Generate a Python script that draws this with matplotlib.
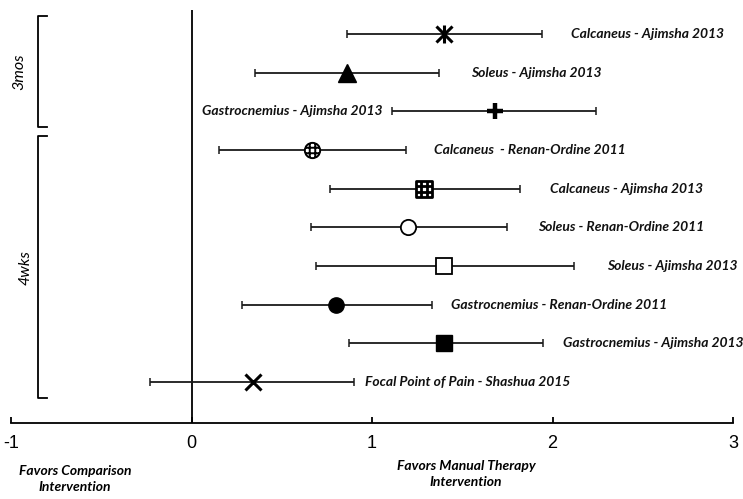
import matplotlib
matplotlib.use("Agg")
import matplotlib.pyplot as plt
import numpy as np
from matplotlib.path import Path

# ---- data ----
labels = ["Calcaneus - Ajimsha 2013", "Soleus - Ajimsha 2013", "Gastrocnemius - Ajimsha 2013",
          "Calcaneus  - Renan-Ordine 2011", "Calcaneus - Ajimsha 2013", "Soleus - Renan-Ordine 2011",
          "Soleus - Ajimsha 2013", "Gastrocnemius - Renan-Ordine 2011", "Gastrocnemius - Ajimsha 2013",
          "Focal Point of Pain - Shashua 2015"]
effect = [1.40, 0.86, 1.68, 0.67, 1.29, 1.20, 1.40, 0.80, 1.40, 0.34]
ci_low = [0.86, 0.35, 1.11, 0.15, 0.77, 0.66, 0.69, 0.28, 0.87, -0.23]
ci_high = [1.94, 1.37, 2.24, 1.19, 1.82, 1.75, 2.12, 1.33, 1.95, 0.90]
groups = ["3mos", "4wks"]
xticks = [-1, 0, 1, 2, 3]
favors_left = "Favors Comparison\nIntervention"
favors_right = "Favors Manual Therapy\nIntervention"

# ---- styles ----
label_x = [2.105, 1.551, 1.058, 1.345, 1.986, 1.918, 2.30, 1.44, 2.06, 0.963]
label_ha = ["left", "left", "right", "left", "left", "left", "left", "left", "left", "left"]

def grid_marker(shape):
    g = 0.36
    if shape == "circle":
        base = Path.unit_circle()
        h = np.sqrt(1 - g * g)
    else:
        base = Path.unit_rectangle()
        base = Path(base.vertices * 2 - 1, base.codes)
        h = 1.0
    verts, codes = [], []
    for v in (-g, g):
        verts += [(v, -h), (v, h)]
        codes += [Path.MOVETO, Path.LINETO]
        verts += [(-h, v), (h, v)]
        codes += [Path.MOVETO, Path.LINETO]
    lines = Path(verts, codes)
    return Path.make_compound_path(base, lines)

fig = plt.figure(figsize=(7.43, 4.99), dpi=100)
W, H = 743, 499
ax = fig.add_axes([11 / W, 1 - 423 / H, (733 - 11) / W, (423 - 10) / H])
ax.set_xlim(-1, 3)
ax.set_ylim(10.06, -0.62)

n = len(effect)
ys = np.arange(n)
for i in range(n):
    ax.errorbar(effect[i], ys[i], xerr=[[effect[i] - ci_low[i]], [ci_high[i] - effect[i]]],
                fmt="none", ecolor="#1a1a1a", elinewidth=1.3, capsize=3.2, capthick=1.1, zorder=2)

k = "black"
# markers
ax.plot(effect[0], ys[0], marker="x", ms=11, mew=2.2, color=k, ls="none", zorder=3)
ax.plot(effect[0], ys[0], marker="|", ms=13, mew=2.2, color=k, ls="none", zorder=3)
ax.plot(effect[1], ys[1], marker="^", ms=13, color=k, ls="none", zorder=3)
ax.plot(effect[2], ys[2], marker="+", ms=12, mew=3.2, color=k, ls="none", zorder=3)
ax.plot(effect[3], ys[3], marker=grid_marker("circle"), ms=11, mfc="white", mec=k, mew=1.4, ls="none", zorder=3)
ax.plot(effect[4], ys[4], marker=grid_marker("square"), ms=11, mfc="white", mec=k, mew=2.0, ls="none", zorder=3)
ax.plot(effect[5], ys[5], marker="o", ms=11, mfc="white", mec=k, mew=1.3, ls="none", zorder=3)
ax.plot(effect[6], ys[6], marker="s", ms=11, mfc="white", mec=k, mew=1.3, ls="none", zorder=3)
ax.plot(effect[7], ys[7], marker="o", ms=11, color=k, ls="none", zorder=3)
ax.plot(effect[8], ys[8], marker="s", ms=11, color=k, ls="none", zorder=3)
ax.plot(effect[9], ys[9], marker="x", ms=11, mew=2.2, color=k, ls="none", zorder=3)

for i in range(n):
    ax.text(label_x[i], ys[i], labels[i], ha=label_ha[i], va="center", family="Lato",
            fontsize=10, fontweight="bold", style="italic", color="#111111")

ax.axvline(0, color="black", lw=1.3, zorder=1)

for s in ("left", "top", "right"):
    ax.spines[s].set_visible(False)
ax.spines["bottom"].set_linewidth(1.3)
ax.set_yticks([])
ax.set_xticks(xticks)
ax.set_xticklabels(["-1", "0", "1", "2", "3"], family="Liberation Sans", fontsize=13)
ax.tick_params(axis="x", direction="in", length=4, width=1.3, pad=9)

# brackets
bx, barm = -0.848, -0.80
brackets = [(-0.47, 2.40), (2.64, 9.41)]
glabel_pos = [(-0.955, 0.98), (-0.922, 6.05)]
for (top, bot), g, (gx, gy) in zip(brackets, groups, glabel_pos):
    ax.plot([barm, bx, bx, barm], [top, top, bot, bot], color="black", lw=1.3, clip_on=False)
    ax.text(gx, gy, g, rotation=90, ha="center", va="center", family="Lato", style="italic",
            fontsize=11.5)

fig.text(75 / W, 1 - 479 / H, favors_left, ha="center", va="center", family="Lato",
         fontweight="bold", style="italic", fontsize=10, linespacing=1.45)
fig.text(466 / W, 1 - 474 / H, favors_right, ha="center", va="center", family="Lato",
         fontweight="bold", style="italic", fontsize=10, linespacing=1.45)

fig.savefig("out.png", dpi=100)
